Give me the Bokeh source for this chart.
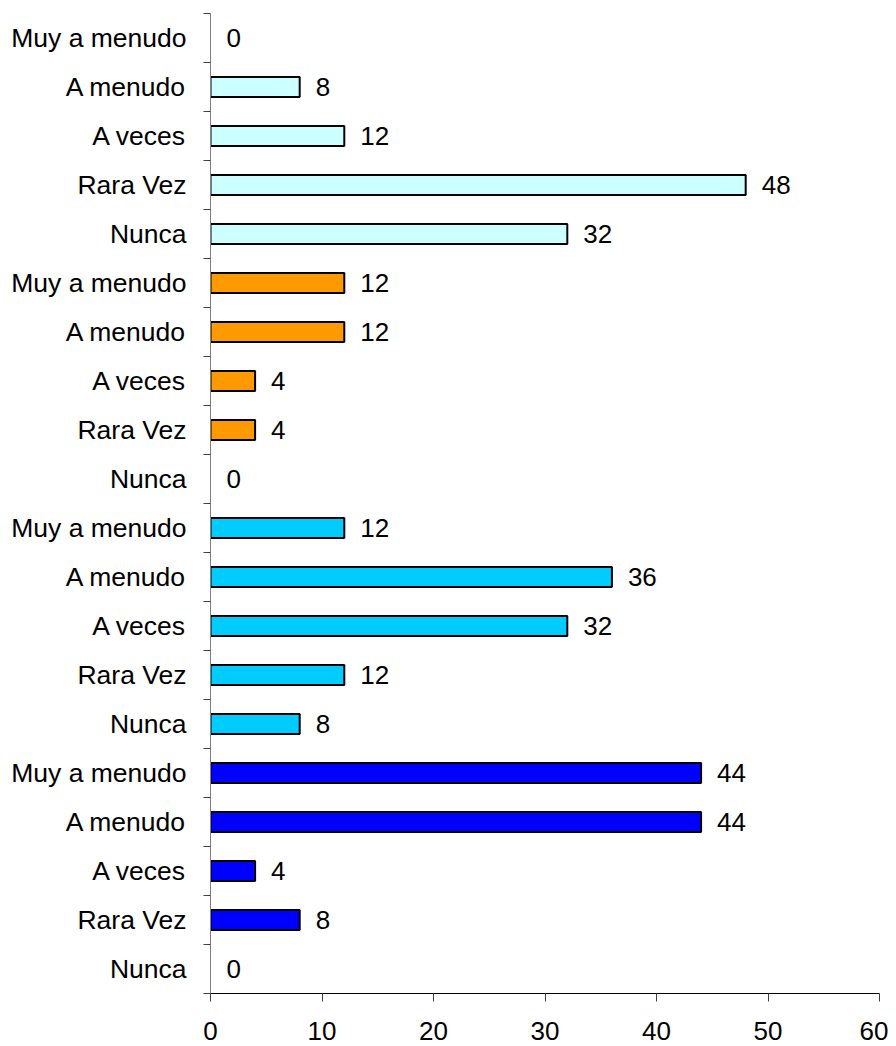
from bokeh.plotting import figure
from bokeh.models import ColumnDataSource, FixedTicker, Range1d
from bokeh.core.properties import value
from bokeh.embed import file_html
from bokeh.resources import INLINE

# Categories listed top to bottom
categories = ["Muy a menudo", "A menudo", "A veces", "Rara Vez", "Nunca"] * 4
values = [0, 8, 12, 48, 32,
          12, 12, 4, 4, 0,
          12, 36, 32, 12, 8,
          44, 44, 4, 8, 0]
group_colors = ["#CCFFFF", "#FF9900", "#00CCFF", "#0000FF"]
colors = [c for c in group_colors for _ in range(5)]
x_ticks = [0, 10, 20, 30, 40, 50, 60]

n = len(categories)
ypos = [n - 0.5 - i for i in range(n)]

src = ColumnDataSource(dict(y=ypos, v=values, c=colors, lab=[str(v) for v in values],
                            a=[0 if v == 0 else 1 for v in values]))

p = figure(width=888, height=1046, output_backend="svg", toolbar_location=None,
           x_range=Range1d(0, 60), y_range=Range1d(0, n),
           min_border_left=210, min_border_right=9, min_border_top=13, min_border_bottom=53)
p.frame_width = 669
p.frame_height = 980
p.outline_line_color = None
p.xgrid.grid_line_color = None
p.ygrid.grid_line_color = None
p.background_fill_color = "white"

p.hbar(y="y", right="v", left=0, height=0.41, fill_color="c", line_color="black",
       line_width=2, line_alpha="a", fill_alpha="a", source=src)
p.text(x="v", y="y", text="lab", source=src, x_offset=16, text_baseline="middle",
       text_align="left", text_font=value("Liberation Sans"), text_font_size="26px",
       text_color="black")

# y axis
p.yaxis.ticker = FixedTicker(ticks=ypos, minor_ticks=list(range(n + 1)))
p.yaxis.major_label_overrides = {y: c for y, c in zip(ypos, categories)}
p.yaxis.major_tick_line_color = None
p.yaxis.major_tick_out = 0
p.yaxis.major_tick_in = 0
p.yaxis.minor_tick_out = 7
p.yaxis.minor_tick_in = 0
p.yaxis.minor_tick_line_color = "#404040"
p.yaxis.axis_line_color = "#808080"
p.yaxis.major_label_standoff = 17
p.yaxis.major_label_text_font = "Liberation Sans"
p.yaxis.major_label_text_font_size = "26.5px"
p.yaxis.major_label_text_color = "black"

# x axis
p.xaxis.ticker = FixedTicker(ticks=x_ticks)
p.xaxis.minor_tick_line_color = None
p.xaxis.major_tick_out = 8
p.xaxis.major_tick_in = 0
p.xaxis.major_tick_line_color = "#404040"
p.xaxis.axis_line_color = "black"
p.xaxis.major_label_standoff = 20
p.xaxis.major_label_text_font = "Liberation Sans"
p.xaxis.major_label_text_font_size = "26px"
p.xaxis.major_label_text_color = "black"

open("out.html", "w").write(file_html(p, INLINE))
